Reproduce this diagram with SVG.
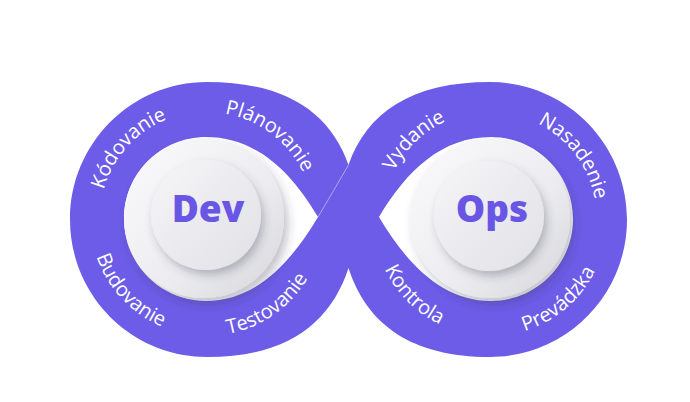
<svg xmlns="http://www.w3.org/2000/svg" xmlns:xlink="http://www.w3.org/1999/xlink" width="690" height="402" viewBox="0 0 690 402">
<style>
.lbl{font-family:"Open Sans","Noto Sans","Liberation Sans",sans-serif;font-size:20px;fill:#ffffff;}
.big{font-family:"Open Sans","Liberation Sans",sans-serif;font-weight:800;font-size:37px;fill:#6a56e4;text-anchor:middle;}
.outer{fill:url(#gOuter);filter:url(#sh1);}
.inner{fill:url(#gInner);filter:url(#sh2);}
</style>
<defs>
<linearGradient id="gOuter" x1="0" y1="0" x2="1" y2="1">
<stop offset="0" stop-color="#fbfbfc"/>
<stop offset="0.6" stop-color="#ececf0"/>
<stop offset="1" stop-color="#d4d4da"/>
</linearGradient>
<linearGradient id="gInner" x1="0" y1="0" x2="1" y2="1">
<stop offset="0" stop-color="#f6f6f8"/>
<stop offset="1" stop-color="#e0e0e6"/>
</linearGradient>
<filter id="sh1" x="-30%" y="-30%" width="160%" height="160%">
<feDropShadow dx="4" dy="6" stdDeviation="5" flood-color="#3a3a50" flood-opacity="0.3"/>
</filter>
<filter id="sh2" x="-30%" y="-30%" width="160%" height="160%">
<feDropShadow dx="3" dy="5" stdDeviation="4" flood-color="#3a3a50" flood-opacity="0.3"/>
</filter>
<path id="pKod" d="M128.7,292 A107,107 0 0 1 271.4,133.5"/>
<path id="pPla" d="M127.5,147.4 A107,107 0 0 1 297.7,275.7"/>
<path id="pBud" d="M120.1,140.7 A117,117 0 0 0 279,311.2"/>
<path id="pTes" d="M117.4,294.2 A117,117 0 0 0 308.3,160.5"/>
<path id="pVyd" d="M406.8,286.3 A107,107 0 0 1 560.2,138.2"/>
<path id="pNas" d="M433.3,128.3 A107,107 0 0 1 561.6,298.5"/>
<path id="pKon" d="M400.4,143.8 A117,117 0 0 0 565.2,308.6"/>
<path id="pPre" d="M408,302.5 A117,117 0 0 0 585.3,151.1"/>
</defs>
<rect width="690" height="402" fill="#ffffff"/>
<g id="connectors">
<path id="loop" fill="#6c5ce7" fill-rule="evenodd" d="M348.5,165 C330,112 285,82 207,82 C131.1,82 70,143.6 70,219.5 C70,295.4 131.1,357 207,357 C285,357 330,325 348.5,268 C367,325 412,357 490,357 C565.9,357 627,295.4 627,219.5 C627,143.6 565.9,82 490,82 C412,82 367,112 348.5,165 Z M318,217 C290,170 255,137 206,137 C160.7,137 124,173.7 124,219 C124,264.3 160.7,301 206,301 C255,301 290,264 318,217 Z M379,217 C407,170 442,137 491,137 C536.3,137 573,173.7 573,219 C573,264.3 536.3,301 491,301 C442,301 407,264 379,217 Z"/>
<path id="seam" d="M348.5,165 Q334,190 318,217" fill="none" stroke="#ffffff" stroke-opacity="0.45" stroke-width="1"/>
</g>
<g id="dev">
<circle class="outer" cx="204" cy="218" r="80"/>
<circle class="inner" cx="206" cy="215" r="55"/>
<text class="big" x="208" y="222">Dev</text>
</g>
<g id="ops">
<circle class="outer" cx="490" cy="218" r="80"/>
<circle class="inner" cx="489" cy="216" r="55"/>
<text class="big" x="492" y="222">Ops</text>
</g>
<g id="labels">
<text class="lbl"><textPath xlink:href="#pKod" href="#pKod" startOffset="50%" text-anchor="middle">Kódovanie</textPath></text>
<text class="lbl"><textPath xlink:href="#pPla" href="#pPla" startOffset="50%" text-anchor="middle">Plánovanie</textPath></text>
<text class="lbl"><textPath xlink:href="#pBud" href="#pBud" startOffset="50%" text-anchor="middle">Budovanie</textPath></text>
<text class="lbl"><textPath xlink:href="#pTes" href="#pTes" startOffset="50%" text-anchor="middle">Testovanie</textPath></text>
<text class="lbl"><textPath xlink:href="#pVyd" href="#pVyd" startOffset="50%" text-anchor="middle">Vydanie</textPath></text>
<text class="lbl"><textPath xlink:href="#pNas" href="#pNas" startOffset="50%" text-anchor="middle">Nasadenie</textPath></text>
<text class="lbl"><textPath xlink:href="#pKon" href="#pKon" startOffset="50%" text-anchor="middle">Kontrola</textPath></text>
<text class="lbl"><textPath xlink:href="#pPre" href="#pPre" startOffset="50%" text-anchor="middle">Prevádzka</textPath></text>
</g>
</svg>
